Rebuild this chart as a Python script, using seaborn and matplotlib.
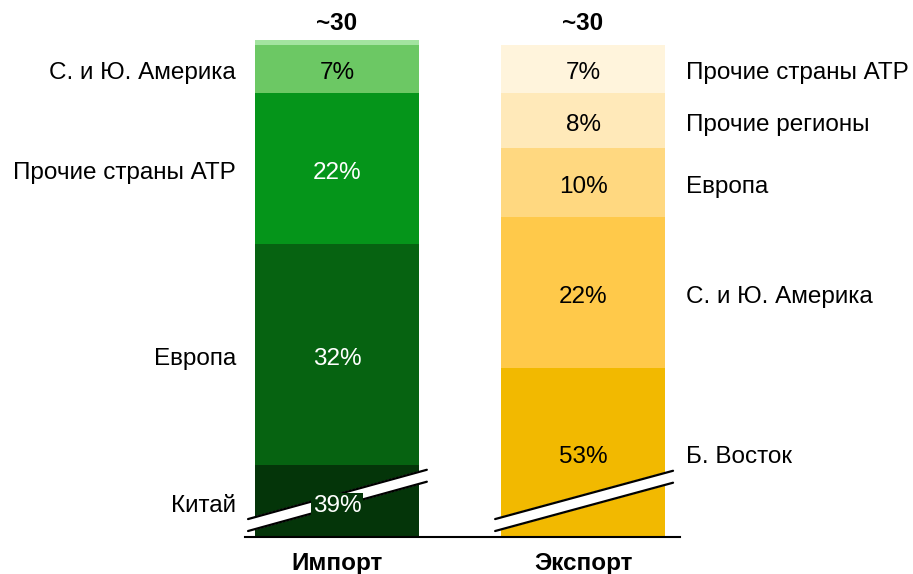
"""Import / export structure: two stacked bars with a broken axis."""

import numpy as np
import pandas as pd
import matplotlib

matplotlib.use("Agg")
import matplotlib.pyplot as plt
import seaborn as sns

# data (shares, %), listed bottom to top
bars = ["Импорт", "Экспорт"]
totals = ["~30", "~30"]

import_regions = ["Китай", "Европа", "Прочие страны АТР", "С. и Ю. Америка", ""]
import_shares = [39, 32, 22, 7, 0.7]
import_colors = ["#043509", "#066311", "#05951a", "#6cc864", "#a3e4a0"]
import_text = ["white", "white", "white", "black", "black"]

export_regions = ["Б. Восток", "С. и Ю. Америка", "Европа", "Прочие регионы", "Прочие страны АТР"]
export_shares = [53, 22, 10, 8, 7]
export_colors = ["#f2b900", "#ffc94a", "#ffd880", "#ffe9b9", "#fff4dc"]
export_text = ["black"] * 5

# lower part of the axis that is cut away (broken axis)
y_cut = 28.5

sns.set_theme(style="white")
plt.rcParams["font.family"] = ["Liberation Sans", "DejaVu Sans"]
plt.rcParams["text.color"] = "black"

fig = plt.figure(figsize=(9.13, 5.74), dpi=100)
W, H = 913, 574
ax = fig.add_axes([245 / W, 1 - 537 / H, 435 / W, 498 / H])

imp_top = np.cumsum(import_shares)
exp_top = np.cumsum(export_shares)
imp_bot = imp_top - np.array(import_shares)
exp_bot = exp_top - np.array(export_shares)

# overlay cumulative bars from the top layer down
for i in range(len(import_shares) - 1, -1, -1):
    layer = pd.DataFrame({"bar": bars, "value": [imp_top[i], exp_top[i]]})
    sns.barplot(
        data=layer, x="bar", y="value", hue="bar",
        palette=[import_colors[i], export_colors[i]],
        width=0.67, saturation=1, legend=False, ax=ax, linewidth=0,
    )

ax.set_xlim(-0.374, 1.394)
ax.set_ylim(y_cut, 100.8)
for s in ["top", "left", "right"]:
    ax.spines[s].set_visible(False)
ax.spines["bottom"].set_color("black")
ax.spines["bottom"].set_linewidth(1.5)
ax.set_xlabel("")
ax.set_ylabel("")
ax.set_yticks([])
ax.set_xticks([])

fs = 17.5
dy = -0.7  # small downward nudge of the labels


def mid(b, t):
    return (max(b, y_cut) + t) / 2 + dy


# segment labels
for b, t, s, name, tc, col in zip(imp_bot, imp_top, import_shares, import_regions,
                                  import_text, import_colors):
    if not name:
        continue
    y = mid(b, t)
    box = None
    if b < y_cut:
        box = dict(facecolor=col, edgecolor="none", pad=1)
    ax.text(0, y, f"{s}%", ha="center", va="center", color=tc, fontsize=fs,
            zorder=6, bbox=box)
    ax.text(-0.41, y, name, ha="right", va="center", fontsize=fs, color="black",
            clip_on=False)

for b, t, s, name, tc in zip(exp_bot, exp_top, export_shares, export_regions, export_text):
    y = mid(b, t)
    ax.text(1, y, f"{s}%", ha="center", va="center", color=tc, fontsize=fs, zorder=6)
    ax.text(1.42, y, name, ha="left", va="center", fontsize=fs, color="black",
            clip_on=False)

# totals above, bar names below
for x, tot, name in zip([0, 1], totals, bars):
    ax.text(x, 1.032, tot, transform=ax.get_xaxis_transform(), ha="center",
            va="center", fontsize=fs, fontweight="bold", color="black")
    ax.text(x, -0.054, name, transform=ax.get_xaxis_transform(), ha="center",
            va="center", fontsize=fs, fontweight="bold", color="black", clip_on=False)

# break marks
for x0, x1, ylo, yhi in [(0.007, 0.418, (0.012, 0.111), (0.036, 0.135)),
                         (0.575, 0.984, (0.012, 0.109), (0.036, 0.133))]:
    xs = [x0, x1, x1, x0]
    ys = [ylo[0], ylo[1], yhi[1], yhi[0]]
    ax.fill(xs, ys, color="white", transform=ax.transAxes, zorder=4, clip_on=False)
    ax.plot([x0, x1], [ylo[0], ylo[1]], color="black", lw=1.6,
            transform=ax.transAxes, zorder=5, clip_on=False)
    ax.plot([x0, x1], [yhi[0], yhi[1]], color="black", lw=1.6,
            transform=ax.transAxes, zorder=5, clip_on=False)

fig.savefig("out.png", dpi=100)
